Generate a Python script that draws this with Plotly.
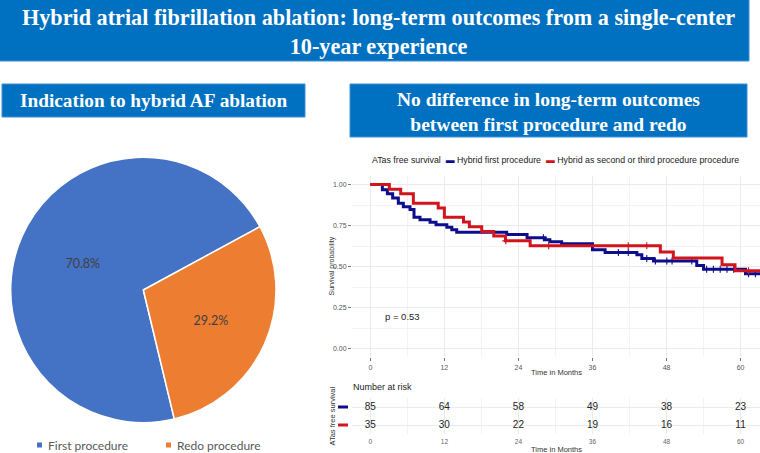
import plotly.graph_objects as go

W, H = 760, 453

# ---------------- data ----------------
pie_labels = ["First procedure", "Redo procedure"]
pie_values = [85, 35]
pie_colors = ["#4472C4", "#ED7D31"]

series_names = ["Hybrid first procedure", "Hybrid as second or third procedure procedure"]
series_colors = ["#0E0E8C", "#D2141C"]

blue_times = [0, 1.95, 2.76, 3.62, 4.54, 5.35, 6.43, 7.08, 8.05, 9.68, 10.65, 12.4, 13.2, 14.0,
              22.1, 25.4, 28.3, 29.1, 31.0, 36.0, 38.05, 43.2, 44.0, 45.9, 52.9, 54.0, 60.8, 64]
blue_surv = [1.0, 0.968, 0.943, 0.917, 0.885, 0.864, 0.848, 0.800, 0.785, 0.770, 0.755, 0.740, 0.725, 0.710,
             0.695, 0.676, 0.664, 0.652, 0.640, 0.603, 0.587, 0.573, 0.550, 0.534, 0.508, 0.484, 0.457, 0.457]
red_times = [0, 3.08, 4.92, 6.97, 11.0, 12.0, 15.1, 16.05, 18.05, 20.0, 21.9, 25.9, 47.0, 49.1, 57.0, 59.1, 64]
red_surv = [1.0, 0.971, 0.943, 0.886, 0.857, 0.800, 0.771, 0.743, 0.714, 0.686, 0.657, 0.627,
            0.590, 0.553, 0.512, 0.476, 0.476]

blue_censor_times = [28.05, 40.2, 41.8, 44.8, 46.2, 48.05, 48.9, 52.1, 54.5, 55.6, 56.7, 57.8, 58.9, 61.3, 62.4]
red_censor_times = [21.95, 28.9, 41.8, 44.8, 61.3]

risk_times = [0, 12, 24, 36, 48, 60]
risk_blue = [85, 64, 58, 49, 38, 23]
risk_red = [35, 30, 22, 19, 16, 11]

p_value_text = "p = 0.53"


def step_at(times, surv, t):
    v = surv[0]
    for ti, si in zip(times, surv):
        if ti <= t:
            v = si
    return v


def px(x):
    return x / W


def py(y):
    return 1 - y / H


fig = go.Figure()

# ---------------- pie ----------------
fig.add_trace(go.Pie(
    labels=pie_labels, values=pie_values, sort=False, direction="clockwise", rotation=166.5,
    marker=dict(colors=pie_colors, line=dict(color="white", width=1.5)),
    texttemplate="%{percent:.1%}", textposition="inside", insidetextorientation="horizontal",
    textfont=dict(family="Lato", size=12.5, color="#404040"),
    domain=dict(x=[px(10.7), px(276)], y=[py(423), py(157)]),
    hoverinfo="skip", showlegend=False,
))

# ---------------- KM curves ----------------
for times, surv, ctimes, name, color in [
    (blue_times, blue_surv, blue_censor_times, series_names[0], series_colors[0]),
    (red_times, red_surv, red_censor_times, series_names[1], series_colors[1]),
]:
    fig.add_trace(go.Scatter(x=times, y=surv, mode="lines", line=dict(color=color, width=3, shape="hv"),
                             name=name, xaxis="x", yaxis="y", showlegend=False))
    fig.add_trace(go.Scatter(x=ctimes, y=[step_at(times, surv, t) for t in ctimes], mode="markers",
                             marker=dict(symbol="cross-thin", size=5, line=dict(color=color, width=1.1)),
                             xaxis="x", yaxis="y", showlegend=False))

# ---------------- risk table ----------------
fig.add_trace(go.Scatter(x=risk_times, y=[2] * len(risk_times), mode="text", text=[str(v) for v in risk_blue],
                         textfont=dict(size=10, color="#222"), xaxis="x2", yaxis="y2", showlegend=False))
fig.add_trace(go.Scatter(x=risk_times, y=[1] * len(risk_times), mode="text", text=[str(v) for v in risk_red],
                         textfont=dict(size=10, color="#222"), xaxis="x2", yaxis="y2", showlegend=False))

xr = [-2.97, 63.15]
axis_common = dict(range=xr, tickvals=risk_times, showline=False, zeroline=False,
                   gridcolor="#EBEBEB", gridwidth=0.8,
                   minor=dict(dtick=6, tick0=0, showgrid=True, gridcolor="#F3F3F3", gridwidth=0.6))

fig.update_layout(
    width=W, height=H, margin=dict(l=0, r=0, t=0, b=0),
    paper_bgcolor="white", plot_bgcolor="white",
    font=dict(family="Liberation Sans"),
    showlegend=False,
    xaxis=dict(domain=[px(352), 1], anchor="y", ticks="outside", ticklen=3, tickcolor="#777",
               tickfont=dict(size=7, color="#555"), **axis_common),
    yaxis=dict(domain=[py(357.2), py(176.2)], anchor="x", range=[-0.05, 1.05],
               tickvals=[0, 0.25, 0.5, 0.75, 1.0], ticktext=["0.00", "0.25", "0.50", "0.75", "1.00"],
               ticks="outside", ticklen=3, tickcolor="#777", showline=False, zeroline=False,
               gridcolor="#EBEBEB", gridwidth=0.8,
               minor=dict(dtick=0.125, tick0=0, showgrid=True, gridcolor="#F3F3F3", gridwidth=0.6),
               tickfont=dict(size=7, color="#555")),
    xaxis2=dict(domain=[px(352), 1], anchor="y2", ticks="", ticklabelstandoff=2,
                tickfont=dict(size=6.5, color="#666"), **axis_common),
    yaxis2=dict(domain=[py(434), py(398)], anchor="x2", range=[0.5, 2.5], tickvals=[1, 2],
                showticklabels=False, showline=False, zeroline=False, gridcolor="#EBEBEB", gridwidth=0.8),
)

shapes = []
annotations = []


def note(text, x, y, size, color="#333", family=None, xanchor="center", angle=0, align="center"):
    f = dict(size=size, color=color)
    if family:
        f["family"] = family
    annotations.append(dict(text=text, x=px(x), y=py(y), xref="paper", yref="paper", showarrow=False,
                            xanchor=xanchor, yanchor="middle", textangle=angle, font=f, align=align))


# banners
banner_color = "#0070C0"
for (x0, y0, x1, y1) in [(-2, -2, 749, 61), (2, 84, 305, 117), (350, 84, 747, 137)]:
    shapes.append(dict(type="rect", xref="paper", yref="paper", x0=px(x0), x1=px(x1), y0=py(y1), y1=py(y0),
                       fillcolor=banner_color, line=dict(color="#3D8FD6", width=1), layer="below"))

serif = "Liberation Serif"
note("<b>Hybrid atrial fibrillation ablation: long-term outcomes from a single-center<br>10-year experience</b>",
     378, 32, 22.2, "white", serif)
note("<b>Indication to hybrid AF ablation</b>", 153, 100.5, 19.3, "white", serif)
note("<b>No difference in long-term outcomes<br>between first procedure and redo</b>", 548, 112, 19.5, "white", serif)

# pie legend
for lab, col, x0 in zip(pie_labels, pie_colors, [37, 166]):
    shapes.append(dict(type="rect", xref="paper", yref="paper", x0=px(x0), x1=px(x0 + 5),
                       y0=py(447.5), y1=py(442.5), fillcolor=col, line=dict(width=0)))
    note(lab, x0 + 9, 445, 12, "#595959", "Lato", xanchor="left")

# KM legend
nb = "\u00a0"
leg_text = ("ATas free survival" + nb * 2 +
            f"<span style='color:{series_colors[0]}'>▬</span>" + nb + series_names[0] + nb * 2 +
            f"<span style='color:{series_colors[1]}'>▬</span>" + nb + series_names[1])
note(leg_text, 555, 159.5, 8.8, "#222")

# axis titles
note("Survival probability", 331.5, 266, 7, angle=-90)
note("Time in Months", 556, 372, 7.5)
note("Time in Months", 556, 449, 7.5)
note("ATas free survival", 331.5, 416, 7.5, angle=-90)
note("Number at risk", 351, 387, 9, "#222", xanchor="left")

# p value
annotations.append(dict(text=p_value_text, x=2.0, y=0.2, xref="x", yref="y", xanchor="left", yanchor="middle",
                        showarrow=False, font=dict(size=9.5, color="#222")))

# risk table strata keys
for yv, col in [(2, series_colors[0]), (1, series_colors[1])]:
    shapes.append(dict(type="line", xref="paper", yref="y2", x0=px(338), x1=px(348), y0=yv, y1=yv,
                       line=dict(color=col, width=3)))

fig.update_layout(shapes=shapes, annotations=annotations)
fig.write_html("out.html", config={"displayModeBar": False},
               post_script="document.body.style.margin='0';document.body.style.overflow='hidden';")
